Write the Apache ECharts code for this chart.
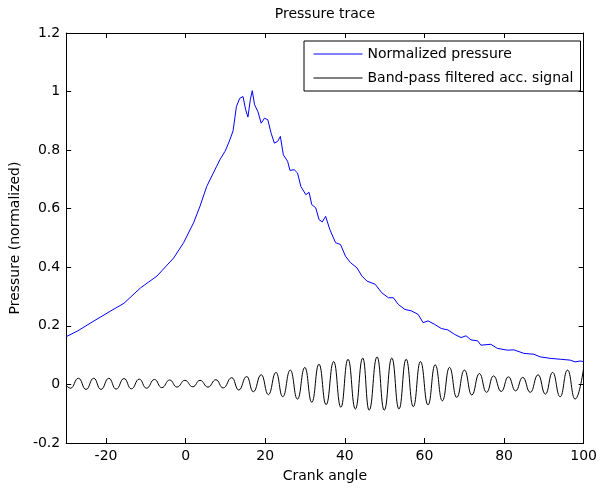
<!DOCTYPE html>
<html>
<head>
<meta charset="utf-8">
<script src="https://cdn.jsdelivr.net/npm/echarts@6/dist/echarts.min.js"></script>
<style>
html,body{margin:0;padding:0;background:#fff;}
#chart{width:600px;height:488px;}
</style>
</head>
<body>
<div id="chart"></div>
<script>
// ---- data ----
const pressureAngle = [-30, -27.1, -23.0, -18.8, -15.5, -11.3, -7.2, -3.0, -0.5, 2.0, 3.6, 5.3, 7.8, 8.6, 9.85,
  10.27, 11.1, 11.92, 12.76, 13.59, 14.42, 15.08, 15.66, 16.25, 16.75, 17.32, 18.15, 18.99, 19.81, 20.64,
  21.48, 22.3, 23.13, 23.8, 24.55, 25.62, 26.21, 27.29, 28.11, 28.95, 30.2, 31.02, 31.69, 32.69, 33.51,
  34.33, 35.18, 36.2, 37.67, 38.91, 40.16, 41.41, 43.05, 44.3, 45.54, 47.63, 49.28, 50.95, 52.19, 53.44,
  55.1, 56.75, 58.42, 59.66, 60.91, 62.57, 64.23, 65.89, 67.56, 69.2, 70.45, 71.7, 73.36, 74.19, 76.68,
  78.34, 80.84, 82.5, 84.99, 87.48, 89.13, 91.62, 94.11, 96.6, 97.85, 99.1, 100];
const pressureValue = [0.163, 0.183, 0.217, 0.251, 0.277, 0.330, 0.370, 0.432, 0.484, 0.552, 0.608, 0.676, 0.745, 0.767, 0.795,
  0.807, 0.835, 0.866, 0.949, 0.977, 0.983, 0.938, 0.913, 0.972, 1.003, 0.955, 0.932, 0.892, 0.909, 0.904,
  0.858, 0.824, 0.830, 0.847, 0.784, 0.762, 0.731, 0.733, 0.722, 0.676, 0.648, 0.656, 0.614, 0.603, 0.563,
  0.555, 0.574, 0.530, 0.484, 0.478, 0.438, 0.416, 0.398, 0.370, 0.353, 0.342, 0.313, 0.296, 0.296, 0.273,
  0.256, 0.251, 0.239, 0.211, 0.217, 0.205, 0.191, 0.186, 0.171, 0.160, 0.166, 0.152, 0.149, 0.134, 0.137,
  0.123, 0.117, 0.118, 0.106, 0.103, 0.094, 0.089, 0.086, 0.083, 0.077, 0.080, 0.078];

const signalAngle = [-30, -28.93, -26.93, -25.02, -23.1, -21.28, -19.29, -17.47, -15.47, -13.64, -11.65, -9.83, -7.83, -6.0,
  -4.0, -2.18, -0.19, 1.8, 3.62, 5.62, 7.6, 9.43, 11.6, 13.35, 15.35, 17.0, 19.0, 20.8, 22.7, 24.4, 26.3, 28.1,
  29.95, 31.7, 33.5, 35.3, 37.2, 39.0, 40.8, 42.65, 44.5, 46.1, 48.1, 49.9, 51.8, 53.6, 55.4, 57.2, 59.0, 60.9,
  62.7, 64.5, 66.3, 68.1, 70.05, 71.9, 73.8, 75.6, 77.35, 79.3, 81.1, 82.9, 84.7, 86.6, 88.55, 90.4, 92.2, 94.1,
  95.95, 97.85, 100];
const signalValue = [-0.003, -0.013, 0.021, -0.017, 0.021, -0.017, 0.021, -0.016, 0.020, -0.015, 0.018, -0.013, 0.017, -0.011,
  0.015, -0.009, 0.014, -0.008, 0.014, -0.009, 0.016, -0.012, 0.023, -0.019, 0.027, -0.025, 0.033, -0.035, 0.041, -0.042, 0.049, -0.050,
  0.058, -0.061, 0.069, -0.069, 0.078, -0.078, 0.086, -0.084, 0.090, -0.088, 0.094, -0.088, 0.090, -0.084, 0.086, -0.076, 0.078, -0.070,
  0.067, -0.056, 0.058, -0.044, 0.049, -0.036, 0.037, -0.027, 0.029, -0.024, 0.026, -0.022, 0.024, -0.027, 0.033, -0.033, 0.041, -0.042,
  0.049, -0.050, 0.057];

const xTicks = [-20, 0, 20, 40, 60, 80, 100];
const yTicks = [-0.2, 0, 0.2, 0.4, 0.6, 0.8, 1, 1.2];

const titleText = 'Pressure trace';
const xName = 'Crank angle';
const yName = 'Pressure (normalized)';
const seriesNames = ['Normalized pressure', 'Band-pass filtered acc. signal'];

// ---- chart ----
const FONT = 'DejaVu Sans';
const zip = (a, b) => a.map((v, i) => [v, b[i]]);

const axisLine = { show: true, onZero: false, lineStyle: { color: '#000', width: 1 } };
const tick = { show: true, inside: true, length: 5, lineStyle: { color: '#000' } };

const chart = echarts.init(document.getElementById('chart'), null, { renderer: 'canvas' });
chart.setOption({
  animation: false,
  backgroundColor: '#fff',
  textStyle: { fontFamily: FONT },
  title: {
    text: titleText, left: 325, top: 7, textAlign: 'center', padding: 0,
    textStyle: { fontFamily: FONT, fontSize: 14, fontWeight: 'normal', color: '#000' }
  },
  legend: {
    orient: 'vertical', left: 304, top: 41,
    padding: [6, 7, 6, 9], itemWidth: 49, itemHeight: 14, itemGap: 10,
    borderColor: '#000', borderWidth: 1, backgroundColor: '#fff',
    itemStyle: { color: 'transparent', borderWidth: 0, opacity: 0 },
    lineStyle: { width: 1 },
    textStyle: { fontFamily: FONT, fontSize: 14, color: '#000' },
    data: seriesNames
  },
  grid: { left: 65, right: 13, top: 33, bottom: 44, containLabel: false },
  xAxis: [{
    type: 'value', min: -30, max: 100, position: 'bottom',
    name: xName, nameLocation: 'middle', nameGap: 26,
    nameTextStyle: { fontFamily: FONT, fontSize: 14, color: '#000' },
    axisLine: axisLine,
    axisTick: Object.assign({ customValues: xTicks }, tick),
    axisLabel: { customValues: xTicks, margin: 6, fontFamily: FONT, fontSize: 14, color: '#000' },
    splitLine: { show: false }
  }, {
    type: 'value', min: -30, max: 100, position: 'top',
    axisLine: axisLine,
    axisTick: Object.assign({ customValues: xTicks }, tick),
    axisLabel: { show: false },
    splitLine: { show: false }
  }],
  yAxis: [{
    type: 'value', min: -0.2, max: 1.2, position: 'left',
    name: yName, nameLocation: 'middle', nameGap: 42, nameRotate: 90,
    nameTextStyle: { fontFamily: FONT, fontSize: 14, color: '#000' },
    axisLine: axisLine,
    axisTick: Object.assign({ customValues: yTicks }, tick),
    axisLabel: { customValues: yTicks, margin: 6, fontFamily: FONT, fontSize: 14, color: '#000' },
    splitLine: { show: false }
  }, {
    type: 'value', min: -0.2, max: 1.2, position: 'right',
    axisLine: axisLine,
    axisTick: Object.assign({ customValues: yTicks }, tick),
    axisLabel: { show: false },
    splitLine: { show: false }
  }],
  series: [{
    name: seriesNames[0], type: 'line', symbol: 'none',
    data: zip(pressureAngle, pressureValue),
    lineStyle: { color: '#0000ff', width: 1 }, itemStyle: { color: '#0000ff' }
  }, {
    name: seriesNames[1], type: 'line', symbol: 'none', smooth: 0.5, smoothMonotone: 'x',
    data: zip(signalAngle, signalValue),
    lineStyle: { color: '#000000', width: 1 }, itemStyle: { color: '#000000' }
  }]
});
</script>
</body>
</html>
